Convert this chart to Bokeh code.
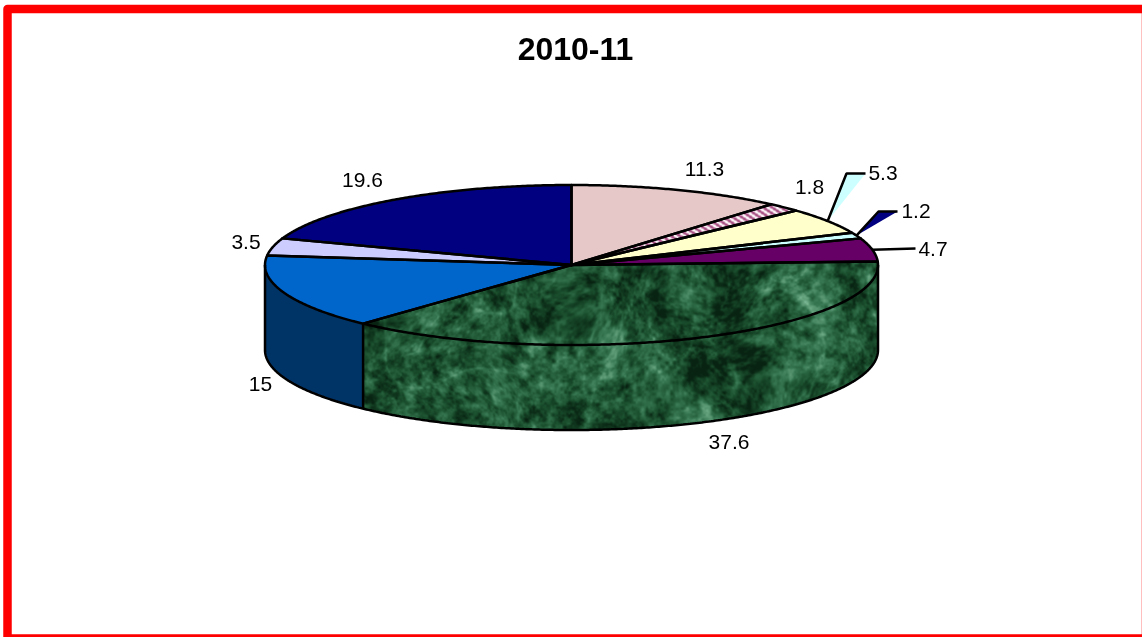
import numpy as np
from bokeh.core.properties import value
from bokeh.embed import file_html
from bokeh.models import Range1d
from bokeh.plotting import figure
from bokeh.resources import INLINE

# ---- data ----
title_text = "2010-11"
values = [11.3, 1.8, 5.3, 1.2, 4.7, 37.6, 15, 3.5, 19.6]
labels = ["11.3", "1.8", "5.3", "1.2", "4.7", "37.6", "15", "3.5", "19.6"]

# ---- styles / layout ----
W, H = 1142, 637
CX, CY, RX, RY, DEPTH = 571.0, 264.5, 306.5, 80.0, 85.0
LW = 2.5
top_colors = ["#E6C8C8", "#FFFFFF", "#FFFFCC", "#CCFFFF", "#660066",
              "#1C5A35", "#0066CC", "#CCCCFF", "#000080"]
side_colors = {5: "#1C5A35", 6: "#003366"}
label_x = [704, 809, 882.5, 915.5, 932.5, 728.5, 260, 245.5, 362]
label_y = [168, 186, 172, 210, 248, 441, 383, 241, 179]
callouts = {2: ((846, 173), (865, 173), "#CCFFFF"),
            3: ((878, 211), (897, 211), "#000080")}
straight_leader_end = {4: (915, 248)}
FONT = "Liberation Sans"

total = sum(values)
edges = np.cumsum([0] + values) / total * 2 * np.pi


def ell(t, dy=0.0):
    return CX + RX * np.sin(t), CY - RY * np.cos(t) + dy


def arc(a, b, dy=0.0):
    n = max(2, int(abs(b - a) * 120))
    return ell(np.linspace(a, b, n), dy)


# ---- procedural marble, no data in here ----
def lattice(ix, iy, seed):
    s = np.sin(ix * 12.9898 + iy * 78.233 + seed * 37.719) * 43758.5453
    return s - np.floor(s)


def vnoise(xx, yy, cell, seed):
    fx, fy = xx / cell, yy / cell
    ix, iy = np.floor(fx), np.floor(fy)
    tx, ty = fx - ix, fy - iy
    tx, ty = tx * tx * (3 - 2 * tx), ty * ty * (3 - 2 * ty)
    a = lattice(ix, iy, seed)
    b = lattice(ix + 1, iy, seed)
    c = lattice(ix, iy + 1, seed)
    d = lattice(ix + 1, iy + 1, seed)
    return (a * (1 - tx) + b * tx) * (1 - ty) + (c * (1 - tx) + d * tx) * ty


yy, xx = np.mgrid[0:H, 0:W] + 0.5
wx = xx + 22 * (vnoise(xx, yy, 60, 5) - .5)
wy = yy + 22 * (vnoise(xx, yy, 60, 6) - .5)
fbm = (.22 * vnoise(wx, wy, 46, 1) + .22 * vnoise(wx, wy, 20, 2)
       + .24 * vnoise(wx, wy, 9, 3) + .2 * vnoise(wx, wy, 4, 4)
       + .12 * vnoise(wx, wy, 2, 7))
ridge = 1 - np.abs(2 * vnoise(wx, wy, 70, 8) - 1)
ridge2 = 1 - np.abs(2 * vnoise(wx, wy, 34, 9) - 1)
tone = np.clip((fbm - .5) * 1.6 + .29 + .26 * ridge ** 16 + .12 * ridge2 ** 14, 0, 1)
stops = np.array([0, .3, .6, 1.0])
marble = [np.interp(tone, stops, [c0, c1, c2, c3]) for c0, c1, c2, c3 in
          [(8, 26, 55, 125), (35, 78, 120, 185), (18, 45, 82, 150)]]

u, v = (xx - CX) / RX, (yy - CY) / RY
theta = np.mod(np.arctan2(u, -v), 2 * np.pi)
inside_top = u ** 2 + v ** 2 <= 1
in_slice = lambda i: (theta >= edges[i]) & (theta < edges[i + 1])

# green slice: top plus its front wall
mask = inside_top & in_slice(5)
vside = (yy - CY - DEPTH) / RY
wall = (np.abs(u) <= 1) & (yy >= CY) & ((u ** 2 + vside ** 2 <= 1) | (yy <= CY + DEPTH))
wall &= ~inside_top & (xx >= ell(edges[6])[0])
mask = mask | wall

rgba = np.zeros((H, W, 4), dtype=np.uint8)
for ch in range(3):
    rgba[..., ch][mask] = marble[ch][mask].astype(np.uint8)
rgba[..., 3][mask] = 255

# patterned thin slice
stripe = inside_top & in_slice(1)
st = np.mod(xx - 1.5 * yy, 9) < 4.5
rgba[stripe] = [250, 240, 245, 255]
rgba[stripe & st] = [170, 85, 135, 255]

view = np.frombuffer(rgba.tobytes(), dtype=np.uint32).reshape(H, W)

# ---- figure ----
p = figure(width=W, height=H, x_range=Range1d(0, W), y_range=Range1d(H, 0),
           toolbar_location=None, output_backend="svg", min_border=0,
           styles={"position": "fixed", "left": "0px", "top": "0px"})
p.axis.visible = False
p.grid.visible = False
p.outline_line_color = None
p.background_fill_color = "white"
p.border_fill_color = "white"

# frame
p.patch([7, 1145.5, 1145.5, 7, 7], [8.5, 8.5, 638, 638, 8.5],
        fill_color=None, line_color="#FF0000", line_width=8.5, line_join="round")

# walls
for i, col in side_colors.items():
    a = max(edges[i], np.pi / 2)
    b = min(edges[i + 1], 3 * np.pi / 2)
    xt, yt = arc(a, b)
    xb, yb = arc(b, a, DEPTH)
    p.patch(np.r_[xt, xb], np.r_[yt, yb], fill_color=col, line_color=None)

# callout wedges (leaders of the small slices)
for i, (elbow, end, col) in callouts.items():
    ax, ay = ell((edges[i] + edges[i + 1]) / 2)
    p.patch([ax, elbow[0], end[0]], [ay, elbow[1], end[1]], fill_color=col, line_color=None)
    p.line([ax, elbow[0], end[0]], [ay, elbow[1], end[1]], line_color="black", line_width=LW)
for i, end in straight_leader_end.items():
    ax, ay = ell((edges[i] + edges[i + 1]) / 2)
    p.line([ax, end[0]], [ay, end[1]], line_color="black", line_width=LW)

# top slices
xs, ys = [], []
for i in range(len(values)):
    xa, ya = arc(edges[i], edges[i + 1])
    xs.append(np.r_[CX, xa, CX])
    ys.append(np.r_[CY, ya, CY])
p.patches(xs, ys, fill_color=top_colors, line_color=None)

# textures
p.image_rgba(image=[view], x=0, y=0, dw=W, dh=H)

# outlines
p.patches(xs, ys, fill_color=None, line_color="black", line_width=LW, line_join="round")
xb, yb = arc(np.pi / 2, 3 * np.pi / 2, DEPTH)
p.line(xb, yb, line_color="black", line_width=LW)
for t in (np.pi / 2, edges[6], 3 * np.pi / 2):
    x0, y0 = ell(t)
    p.line([x0, x0], [y0, y0 + DEPTH], line_color="black", line_width=LW)

# texts
p.text(label_x, label_y, text=labels, text_font=value(FONT), text_font_size="21px",
       text_color="black", text_align="center", text_baseline="middle")
p.text([575], [48], text=[title_text], text_font=value(FONT), text_font_size="32px",
       text_font_style="bold", text_color="black", text_align="center", text_baseline="middle")

open("out.html", "w").write(file_html(p, INLINE))
